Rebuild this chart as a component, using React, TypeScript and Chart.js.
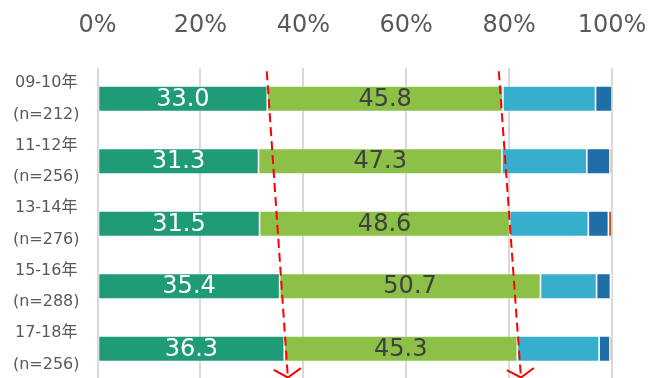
import React, { useEffect, useRef } from "react";
import { Chart, registerables } from "chart.js";

Chart.register(...registerables);

// Survey periods and sample sizes (two-line category labels)
const periods = ["09-10年", "11-12年", "13-14年", "15-16年", "17-18年"];
const sampleSizes = ["(n=212)", "(n=256)", "(n=276)", "(n=288)", "(n=256)"];

// Share of each answer group per period, in percent (each row sums to 100)
const group1 = [33.0, 31.3, 31.5, 35.4, 36.3];
const group2 = [45.8, 47.3, 48.6, 50.7, 45.3];
const group3 = [18.0, 16.5, 15.3, 10.9, 15.9];
const group4 = [3.2, 4.5, 3.9, 2.7, 2.1];
const group5 = [0.0, 0.4, 0.7, 0.3, 0.4];

const groupNames = ["区分1", "区分2", "区分3", "区分4", "区分5"];
const groupColors = ["#1f9b77", "#8cc046", "#36aece", "#1f6ea8", "#c4521f"];
const valueLabelColors = ["#ffffff", "#404040", null, null, null];

// Percent axis
const percentMin = 0;
const percentMax = 100;
const percentStep = 20;

// Dashed trend arrows, given in (percent, category index) coordinates
const trendArrows = [
  { from: [32.9, -0.44], to: [37.0, 4.46] },
  { from: [78.0, -0.44], to: [82.3, 4.46] },
];

const FONT = "'DejaVu Sans', 'Noto Sans CJK JP', sans-serif";

const segmentLabelPlugin = {
  id: "segmentLabels",
  afterDatasetsDraw(chart: any) {
    const ctx = chart.ctx;
    ctx.save();
    ctx.font = `24px ${FONT}`;
    ctx.textAlign = "center";
    ctx.textBaseline = "middle";
    chart.data.datasets.forEach((ds: any, di: number) => {
      const color = valueLabelColors[di];
      if (!color) return;
      const meta = chart.getDatasetMeta(di);
      meta.data.forEach((bar: any, i: number) => {
        const v = ds.data[i] as number;
        const cx = (bar.x + bar.base) / 2;
        ctx.fillStyle = color;
        ctx.fillText(v.toFixed(1), cx, bar.y + 1);
      });
    });
    ctx.restore();
  },
};

const trendArrowPlugin = {
  id: "trendArrows",
  afterDraw(chart: any) {
    const { ctx, scales } = chart;
    const xs = scales.x;
    const ys = scales.y;
    ctx.save();
    ctx.strokeStyle = "#ff0000";
    ctx.lineWidth = 2;
    trendArrows.forEach((a) => {
      const x1 = xs.getPixelForValue(a.from[0]);
      const y1 = ys.getPixelForValue(a.from[1]);
      const x2 = xs.getPixelForValue(a.to[0]);
      const y2 = ys.getPixelForValue(a.to[1]);
      ctx.setLineDash([9, 5]);
      ctx.beginPath();
      ctx.moveTo(x1, y1);
      ctx.lineTo(x2, y2);
      ctx.stroke();
      // open arrow head
      const ang = Math.atan2(y2 - y1, x2 - x1);
      const len = 16;
      const spread = (58 * Math.PI) / 180;
      ctx.setLineDash([]);
      ctx.beginPath();
      ctx.moveTo(x2 - len * Math.cos(ang - spread), y2 - len * Math.sin(ang - spread));
      ctx.lineTo(x2, y2);
      ctx.lineTo(x2 - len * Math.cos(ang + spread), y2 - len * Math.sin(ang + spread));
      ctx.stroke();
    });
    ctx.restore();
  },
};

// Keep the label overhang from shrinking the plot area
const noOverhang = (s: any) => {
  s.paddingLeft = 0;
  s.paddingRight = 0;
  s.paddingTop = 0;
  s.paddingBottom = 0;
};

export default function App() {
  const canvasRef = useRef<HTMLCanvasElement | null>(null);

  useEffect(() => {
    const canvas = canvasRef.current;
    if (!canvas) return;
    const series = [group1, group2, group3, group4, group5];
    const chart = new Chart(canvas, {
      type: "bar",
      data: {
        labels: periods.map((p, i) => [p, sampleSizes[i]]),
        datasets: series.map((data, i) => ({
          label: groupNames[i],
          data,
          backgroundColor: groupColors[i],
          borderColor: "rgba(255,255,255,0.5)",
          borderWidth: 0.8,
          borderSkipped: false,
          barPercentage: 0.41,
          categoryPercentage: 1,
        })),
      },
      options: {
        indexAxis: "y",
        responsive: false,
        animation: false,
        devicePixelRatio: 1,
        layout: { padding: { top: 0, right: 50, bottom: 0, left: 0 } },
        plugins: {
          legend: { display: false },
          tooltip: { enabled: false },
        },
        scales: {
          x: {
            position: "top",
            stacked: true,
            min: percentMin,
            max: percentMax,
            ticks: {
              stepSize: percentStep,
              padding: 27,
              color: "#595959",
              font: { family: FONT, size: 24 },
              callback: (v: any) => `${v}%`,
            },
            grid: { color: "#d9d9d9", lineWidth: 2, drawTicks: false },
            border: { display: false },
            afterFit: (s: any) => {
              noOverhang(s);
              s.height = 67.5;
            },
          },
          y: {
            stacked: true,
            ticks: {
              autoSkip: false,
              crossAlign: "center",
              padding: 10,
              color: "#595959",
              font: { family: FONT, size: 16, lineHeight: 1.97 },
            },
            grid: { display: false },
            border: { display: false },
            afterFit: (s: any) => {
              noOverhang(s);
              s.width = 97.5;
            },
          },
        },
      },
      plugins: [segmentLabelPlugin, trendArrowPlugin],
    });
    return () => chart.destroy();
  }, []);

  return (
    <div
      style={{
        position: "fixed",
        left: 0,
        top: 0,
        width: 662,
        height: 378,
        overflow: "hidden",
        background: "#ffffff",
      }}
    >
      <canvas ref={canvasRef} width={662} height={380} style={{ display: "block" }} />
    </div>
  );
}
